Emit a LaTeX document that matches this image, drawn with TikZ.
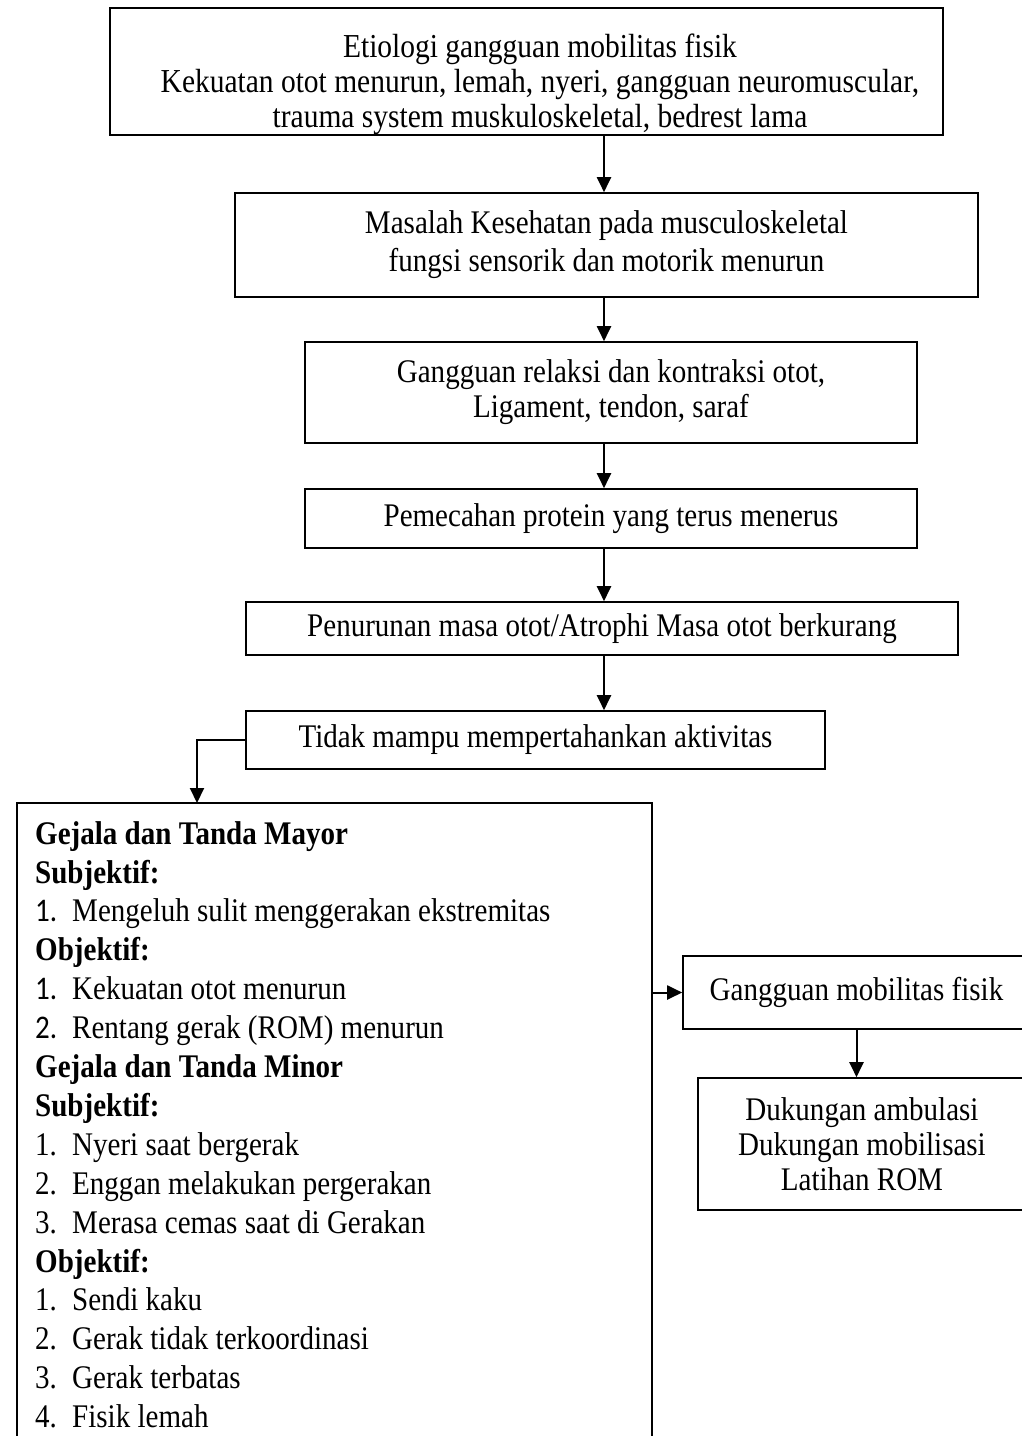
\documentclass[tikz,border=0pt]{standalone}
\usepackage{fontspec}
\setmainfont{Liberation Serif}[FakeStretch=0.88]
\newfontfamily\numfont{Carlito}[FakeStretch=0.88]
\usetikzlibrary{arrows.meta, positioning, calc}

% nummer in der liste
\newcommand{\lsnum}[1]{\makebox[37pt][l]{#1}}
\newcommand{\lsnumsans}[1]{\makebox[37pt][l]{\numfont #1}}

\tikzset{
  box/.style={draw, line width=1.6pt, inner sep=0pt, align=center, font=\fontsize{33}{35}\selectfont},
  boxtext/.style={inner sep=0pt, align=center, font=\fontsize{33.5}{35}\selectfont},
  arr/.style={line width=2pt, -{Triangle[length=15pt, width=14pt]}},
}

\begin{document}
\begin{tikzpicture}[x=1pt, y=-1pt, line join=miter]
    \path[use as bounding box, clip] (0,0) rectangle (1022,1436);
    % Hauptkette
    \node[box, minimum width=833pt, minimum height=127pt] (etio) at (526.5,71.5) {};
    \node[boxtext] (etiotext) at (540,84) {Etiologi gangguan mobilitas fisik\\
      Kekuatan otot menurun, lemah, nyeri, gangguan neuromuscular,\\
      trauma system muskuloskeletal, bedrest lama};
    \node[box, minimum width=743pt, minimum height=104pt, font=\fontsize{33}{38}\selectfont] (masalah) at (606.5,245) {Masalah Kesehatan pada musculoskeletal\\ fungsi sensorik dan motorik menurun};
    \node[box, minimum width=612pt, minimum height=101pt] (relaksi) at (611,392.5) {Gangguan relaksi dan kontraksi otot,\\ Ligament, tendon, saraf};
    \node[box, minimum width=612pt, minimum height=59pt] (protein) at (611,518.5) {Pemecahan protein yang terus menerus};
    \node[box, minimum width=712pt, minimum height=53pt] (atrophi) at (602,628.5) {Penurunan masa otot/Atrophi Masa otot berkurang};
    \node[box, minimum width=579pt, minimum height=58pt] (tidak) at (535.5,740) {Tidak mampu mempertahankan aktivitas};
    % Gejala und Tanda
    \node[box, minimum width=635pt, minimum height=657pt] (gejala) at (334.5,1131.5) {};
    \node[anchor=north west, inner sep=0pt, align=left, font=\fontsize{33}{38.9}\selectfont] (gejalatext) at (35,821) {%
      \textbf{Gejala dan Tanda Mayor}\\
      \textbf{Subjektif:}\\
      \lsnumsans{1.}Mengeluh sulit menggerakan ekstremitas\\
      \textbf{Objektif:}\\
      \lsnumsans{1.}Kekuatan otot menurun\\
      \lsnumsans{2.}Rentang gerak (ROM) menurun\\
      \textbf{Gejala dan Tanda Minor}\\
      \textbf{Subjektif:}\\
      \lsnum{1.}Nyeri saat bergerak\\
      \lsnum{2.}Enggan melakukan pergerakan\\
      \lsnum{3.}Merasa cemas saat di Gerakan\\
      \textbf{Objektif:}\\
      \lsnum{1.}Sendi kaku\\
      \lsnum{2.}Gerak tidak terkoordinasi\\
      \lsnum{3.}Gerak terbatas\\
      \lsnum{4.}Fisik lemah};
    % Diagnose und Intervention
    \node[box, minimum width=347pt, minimum height=73pt] (gangguan) at (856.5,992.5) {Gangguan mobilitas fisik};
    \node[box, minimum width=328pt, minimum height=132pt] (dukungan) at (862,1144) {Dukungan ambulasi\\ Dukungan mobilisasi\\ Latihan ROM};
    % Pfeile
    \coordinate (spine) at (604,0);
    \coordinate (gjtop) at (197,803);
    \draw[arr] (etio.south -| spine) -- (masalah.north -| spine);
    \draw[arr] (masalah.south -| spine) -- (relaksi.north -| spine);
    \draw[arr] (relaksi.south -| spine) -- (protein.north -| spine);
    \draw[arr] (protein.south -| spine) -- (atrophi.north -| spine);
    \draw[arr] (atrophi.south -| spine) -- (tidak.north -| spine);
    \draw[arr] (tidak.west) -| (gjtop);
    \draw[arr] (gejala.east |- gangguan.west) -- (gangguan.west);
    \draw[arr] (gangguan.south) -- (dukungan.north -| gangguan.south);
\end{tikzpicture}
\end{document}
